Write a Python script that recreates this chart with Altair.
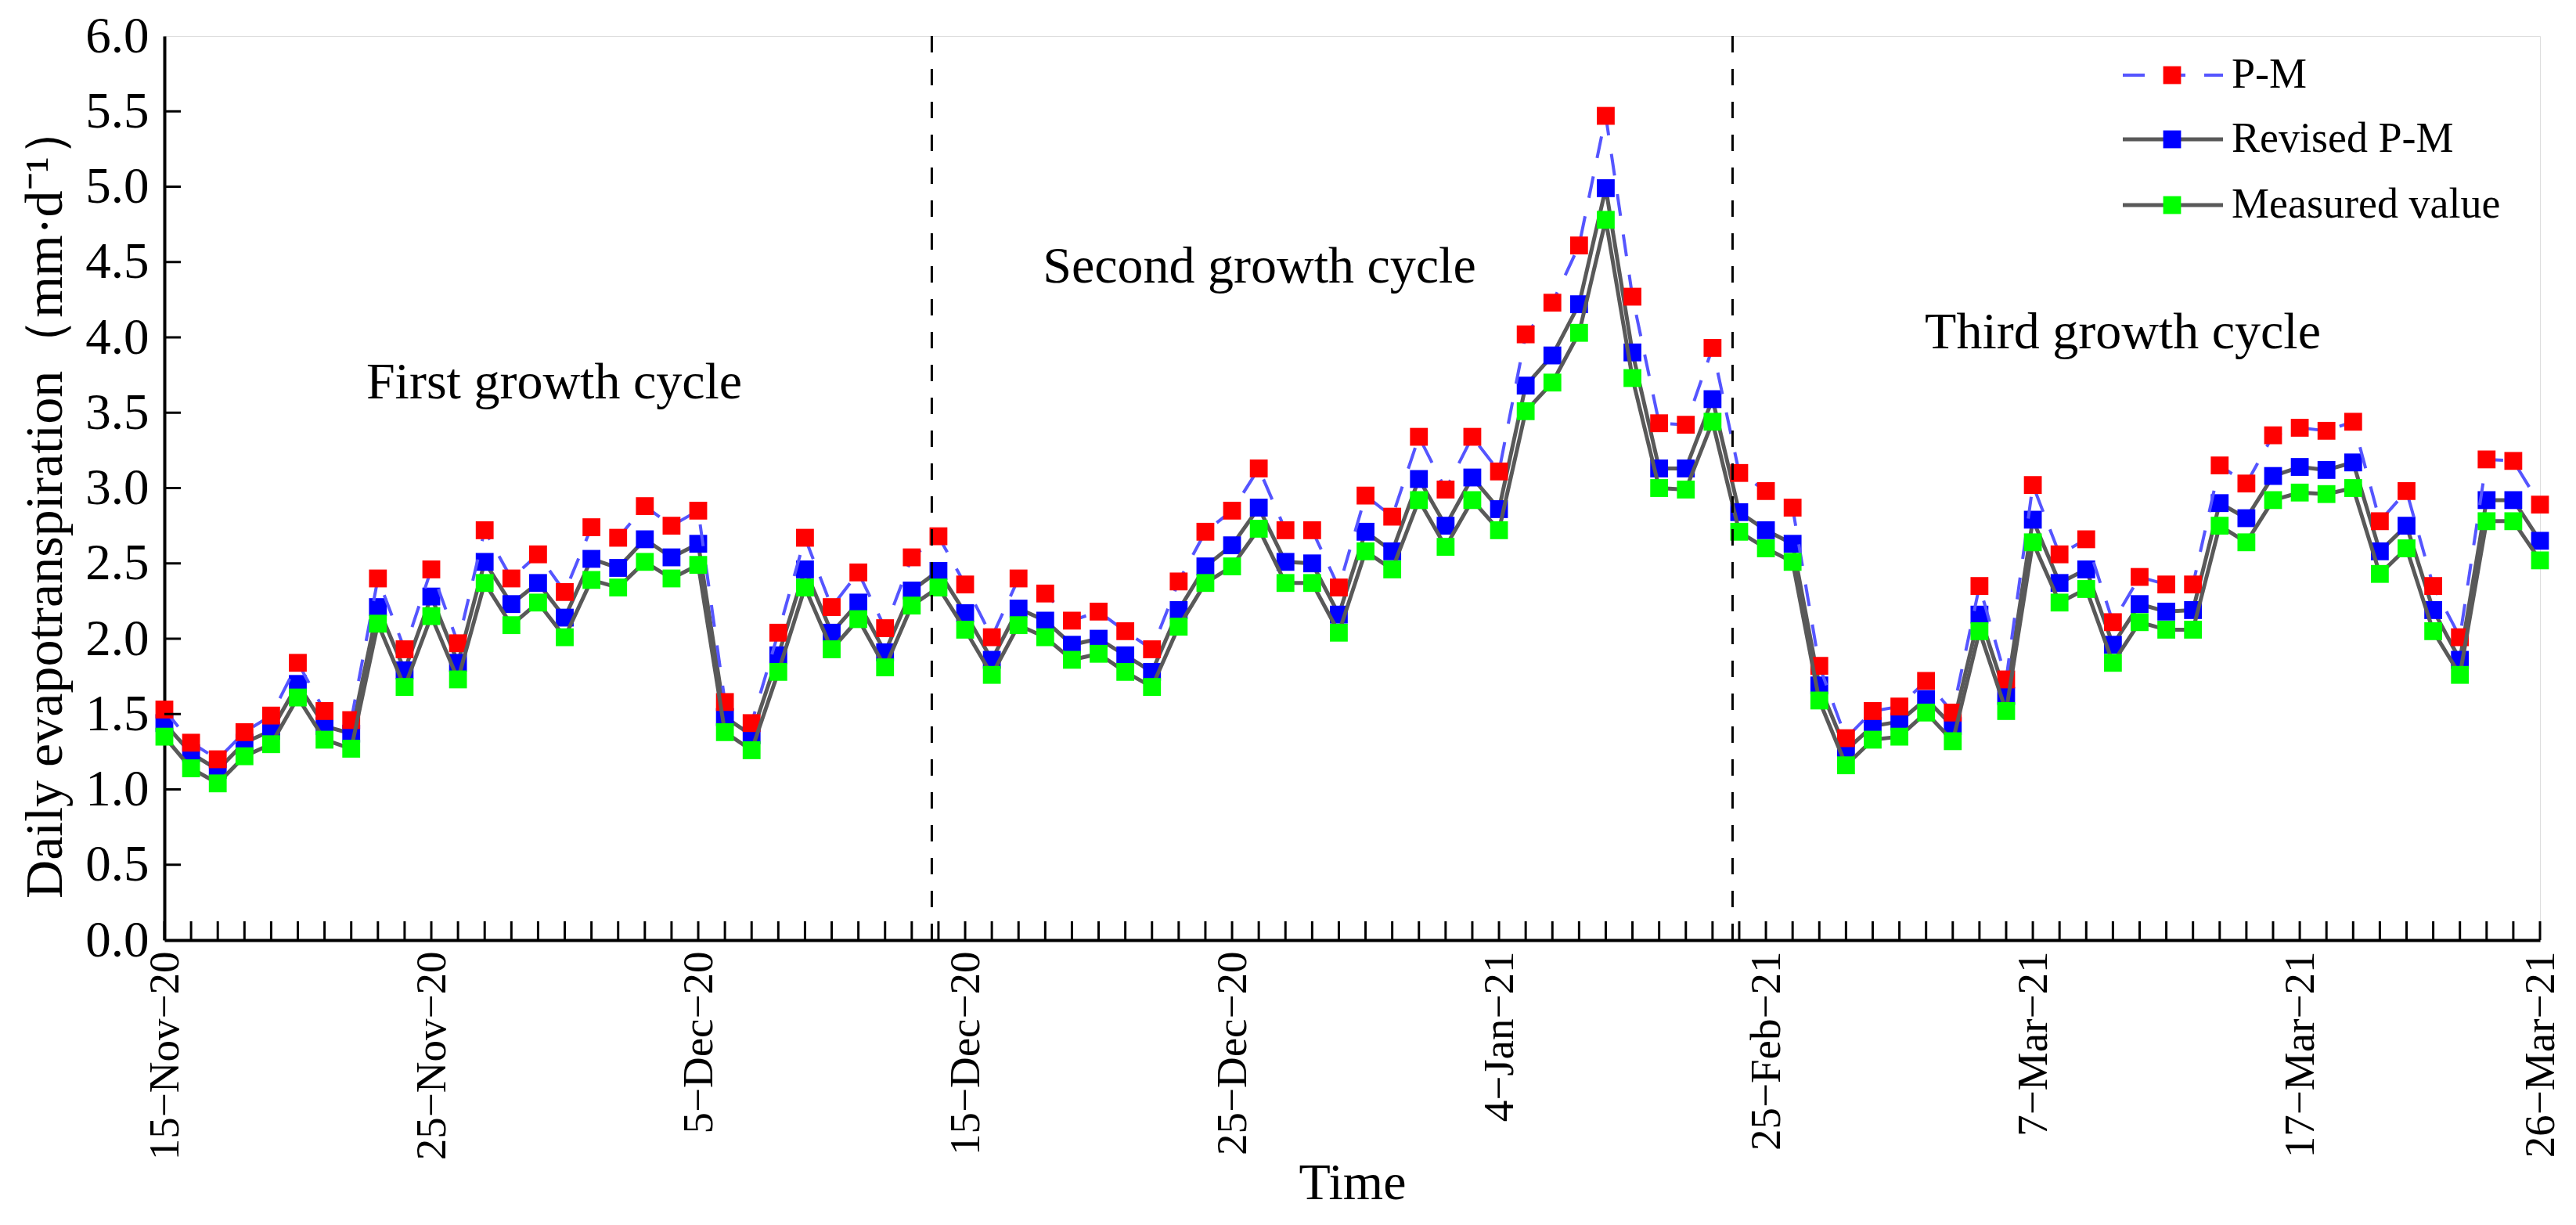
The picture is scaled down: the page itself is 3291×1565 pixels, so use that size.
import altair as alt
import pandas as pd

# ---- data (daily ET, mm/d) ----
pm = [1.53, 1.31, 1.20, 1.38, 1.49, 1.84, 1.52, 1.46, 2.40, 1.93,
      2.46, 1.97, 2.72, 2.40, 2.56, 2.31, 2.74, 2.67, 2.88, 2.75,
      2.85, 1.58, 1.44, 2.04, 2.67, 2.21, 2.44, 2.07, 2.54,
      2.68, 2.36, 2.01, 2.40, 2.30, 2.12, 2.18, 2.05, 1.93, 2.38,
      2.71, 2.85, 3.13, 2.72, 2.72, 2.34, 2.95, 2.81, 3.34, 2.99,
      3.34, 3.11, 4.02, 4.23, 4.61, 5.47, 4.27, 3.43, 3.42, 3.93,
      3.10, 2.98, 2.87, 1.82, 1.34, 1.52, 1.55, 1.72, 1.51, 2.35,
      1.73, 3.02, 2.56, 2.66, 2.11, 2.41, 2.36, 2.36, 3.15, 3.03,
      3.35, 3.40, 3.38, 3.44, 2.78, 2.98, 2.35, 2.01, 3.19, 3.18, 2.89]

revised = [1.44, 1.24, 1.13, 1.31, 1.39, 1.70, 1.42, 1.37, 2.21, 1.79,
           2.28, 1.84, 2.51, 2.23, 2.37, 2.14, 2.53, 2.47, 2.66, 2.54,
           2.63, 1.48, 1.36, 1.89, 2.46, 2.04, 2.24, 1.91, 2.32,
           2.45, 2.17, 1.86, 2.20, 2.12, 1.96, 2.00, 1.89, 1.78, 2.19,
           2.48, 2.62, 2.87, 2.51, 2.50, 2.16, 2.71, 2.58, 3.06, 2.75,
           3.07, 2.86, 3.68, 3.88, 4.22, 4.99, 3.90, 3.13, 3.13, 3.59,
           2.84, 2.72, 2.63, 1.69, 1.26, 1.42, 1.45, 1.60, 1.42, 2.16,
           1.62, 2.79, 2.37, 2.46, 1.96, 2.23, 2.18, 2.19, 2.90, 2.80,
           3.08, 3.14, 3.12, 3.17, 2.58, 2.75, 2.19, 1.86, 2.92, 2.92, 2.65]

measured = [1.35, 1.14, 1.04, 1.22, 1.30, 1.61, 1.33, 1.27, 2.10, 1.68,
            2.15, 1.73, 2.37, 2.09, 2.24, 2.01, 2.39, 2.34, 2.51, 2.40,
            2.49, 1.38, 1.26, 1.78, 2.34, 1.93, 2.13, 1.81, 2.22,
            2.34, 2.06, 1.76, 2.09, 2.01, 1.86, 1.90, 1.78, 1.68, 2.08,
            2.37, 2.48, 2.73, 2.37, 2.37, 2.04, 2.58, 2.46, 2.92, 2.61,
            2.92, 2.72, 3.51, 3.70, 4.03, 4.78, 3.73, 3.00, 2.99, 3.44,
            2.71, 2.60, 2.51, 1.59, 1.16, 1.33, 1.35, 1.51, 1.32, 2.05,
            1.52, 2.64, 2.24, 2.33, 1.84, 2.11, 2.06, 2.06, 2.75, 2.64,
            2.92, 2.97, 2.96, 3.00, 2.43, 2.60, 2.05, 1.76, 2.78, 2.78, 2.52]

tick_idx = [0, 10, 20, 30, 40, 50, 60, 70, 80, 89]
tick_text = ["15\u2212Nov\u221220", "25\u2212Nov\u221220", "5\u2212Dec\u221220",
             "15\u2212Dec\u221220", "25\u2212Dec\u221220", "4\u2212Jan\u221221",
             "25\u2212Feb\u221221", "7\u2212Mar\u221221", "17\u2212Mar\u221221",
             "26\u2212Mar\u221221"]
y_ticks = [0.0, 0.5, 1.0, 1.5, 2.0, 2.5, 3.0, 3.5, 4.0, 4.5, 5.0, 5.5, 6.0]
cycle_breaks = [28.75, 58.75]
series_names = ["P-M", "Revised P-M", "Measured value"]
cycle_names = ["First growth cycle", "Second growth cycle", "Third growth cycle"]

# ---- tables ----
n = len(pm)
rows = []
for name, vals in zip(series_names, [pm, revised, measured]):
    for i, v in enumerate(vals):
        rows.append({"idx": i, "series": name, "value": v})
long_df = pd.DataFrame(rows)
xtick_df = pd.DataFrame({"idx": list(range(n))})
ytick_df = pd.DataFrame({"value": y_ticks[1:-1]})
break_df = pd.DataFrame({"idx": cycle_breaks})

W, H = 3035, 1155
FONT = "Liberation Serif"

labels_js = "[" + ",".join("'%s'" % t for t in tick_text) + "]"
idx_js = "[" + ",".join(str(i) for i in tick_idx) + "]"

x_axis = alt.Axis(values=tick_idx, labelExpr=f"{labels_js}[indexof({idx_js}, datum.value)]",
                  labelAngle=-90, labelAlign="right", labelBaseline="middle",
                  labelFont=FONT, labelFontSize=55, labelColor="black", labelPadding=14,
                  labelFlush=False, labelOverlap=False, labelLimit=0,
                  ticks=False, tickSize=0, grid=False,
                  domainColor="black", domainWidth=4,
                  title="Time", titleFont=FONT, titleFontSize=66, titleFontWeight="normal",
                  titleColor="black", titleX=W / 2, titleY=330, titleBaseline="alphabetic",
                  titleAlign="center")
y_axis = alt.Axis(values=y_ticks, format=".1f",
                  labelFont=FONT, labelFontSize=65, labelColor="black", labelPadding=20,
                  labelFlush=False, labelOverlap=False,
                  ticks=False, tickSize=0, grid=False,
                  domainColor="black", domainWidth=4,
                  title="Daily evapotranspiration\uff08mm\u00b7d\u207b\u00b9\uff09",
                  titleFont=FONT, titleFontSize=68, titleFontWeight="normal", titleColor="black",
                  titleAngle=-90, titleX=-152, titleY=H / 2 + 16, titleAlign="center",
                  titleBaseline="middle")
x_scale = alt.Scale(domain=[0, n - 1], nice=False, zero=False)
y_scale = alt.Scale(domain=[0, 6], nice=False)

X = alt.X("idx:Q", scale=x_scale, axis=x_axis)
Y = alt.Y("value:Q", scale=y_scale, axis=y_axis)


def series_layers(name, line_color, dash, width, marker_color):
    base = alt.Chart(long_df).transform_filter(alt.datum.series == name)
    line_kw = dict(color=line_color, strokeWidth=width, strokeJoin="round")
    if dash:
        line_kw["strokeDash"] = dash
    line = base.mark_line(**line_kw).encode(x=X, y=Y)
    pts = base.mark_square(size=520, color=marker_color, filled=True, opacity=1).encode(x=X, y=Y)
    return line, pts


rev_line, rev_pts = series_layers("Revised P-M", "#595959", None, 5, "#0000FF")
pm_line, pm_pts = series_layers("P-M", "#5555FF", [28, 24], 4, "#FF0000")
mea_line, mea_pts = series_layers("Measured value", "#595959", None, 5, "#00FF00")

xticks = alt.Chart(xtick_df).mark_rule(color="black", strokeWidth=3).encode(
    x=X, y=alt.value(H - 24), y2=alt.value(H))
yticks = alt.Chart(ytick_df).mark_rule(color="black", strokeWidth=3).encode(
    y=Y, x=alt.value(0), x2=alt.value(21))
breaks = alt.Chart(break_df).mark_rule(color="black", strokeWidth=3, strokeDash=[21, 21]).encode(x=X)

# ---- annotations ----
ann_pos = [(498, 463), (1399, 315), (2502, 399)]
anns = []
for name, (px, py) in zip(cycle_names, ann_pos):
    anns.append(alt.Chart(pd.DataFrame({"t": [name]})).mark_text(
        font=FONT, fontSize=66, color="black", align="center", baseline="alphabetic").encode(
        text="t:N", x=alt.value(px), y=alt.value(py)))

# ---- manual legend ----
leg_rows = [50, 132, 216]
leg_styles = [("#5555FF", [28, 24], 4, "#FF0000"), ("#595959", None, 5, "#0000FF"),
              ("#595959", None, 5, "#00FF00")]
legs = []
for name, ly, (lc, ld, lw, mc) in zip(series_names, leg_rows, leg_styles):
    ldf = pd.DataFrame({"t": [name]})
    rk = dict(color=lc, strokeWidth=lw)
    if ld:
        rk["strokeDash"] = ld
    legs.append(alt.Chart(ldf).mark_rule(**rk).encode(
        x=alt.value(2502), x2=alt.value(2630), y=alt.value(ly)))
    legs.append(alt.Chart(ldf).mark_square(size=520, color=mc, filled=True, opacity=1).encode(
        x=alt.value(2565), y=alt.value(ly)))
    legs.append(alt.Chart(ldf).mark_text(font=FONT, fontSize=54, color="black", align="left",
                                         baseline="middle").encode(
        text="t:N", x=alt.value(2641), y=alt.value(ly)))

chart = alt.layer(
    rev_line, rev_pts, pm_line, pm_pts, mea_line, mea_pts,
    xticks, yticks, breaks, *anns, *legs
).properties(
    width=W, height=H,
    autosize=alt.AutoSizeParams(type="none"),
    padding={"left": 202, "top": 38, "right": 30, "bottom": 348},
    background="white",
).configure_view(stroke="black", strokeWidth=4).configure(font=FONT)

chart.save("out.html", embed_options={"renderer": "svg", "actions": False})
